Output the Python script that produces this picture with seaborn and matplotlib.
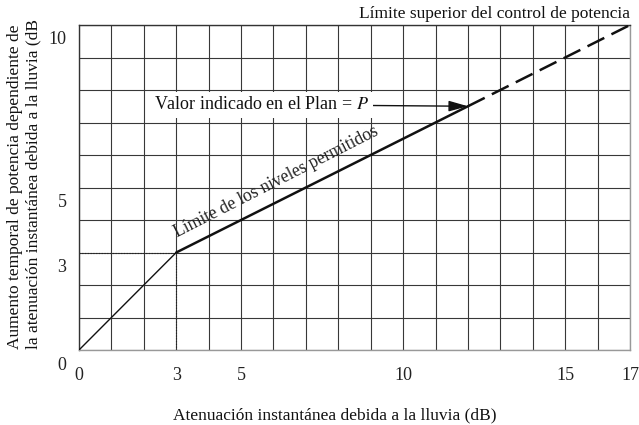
import numpy as np
import matplotlib
matplotlib.use("Agg")
import matplotlib.pyplot as plt
import matplotlib.transforms as mtransforms
from matplotlib.ticker import MultipleLocator
import seaborn as sns

# data (dB)
ramp_x = [0, 3]
ramp_y = [0, 3]
limit_x = [3, 12]
limit_y = [3, 7.5]
upper_x = [12, 17]
upper_y = [7.5, 10]
knee = (3, 3)
plan_point = (12, 7.5)
x_ticks = [0, 3, 5, 10, 15, 17]
y_ticks = [0, 3, 5, 10]

sns.set_theme(style="white")
plt.rcParams['font.family'] = ['Liberation Serif', 'DejaVu Serif']
plt.rcParams['mathtext.fontset'] = 'stix'

fs = 13

fig = plt.figure(figsize=(6.39, 4.25), dpi=100)
ax = fig.add_axes([79 / 639, 1 - 350 / 425, 551 / 639, 325 / 425])

# grid every 1 dB
ax.set_xlim(0, 17)
ax.set_ylim(0, 10)
ax.xaxis.set_minor_locator(MultipleLocator(1))
ax.yaxis.set_minor_locator(MultipleLocator(1))
ax.set_xticks(x_ticks)
ax.set_yticks(y_ticks)
ax.set_xticklabels([str(v) for v in x_ticks])
ax.set_yticklabels([str(v) for v in y_ticks])
ax.grid(which='both', color='#383838', linewidth=0.8, zorder=0)
ax.set_axisbelow(True)
ax.tick_params(which='both', length=0, labelsize=fs, colors='#222222')
ax.tick_params(axis='x', pad=12)
ax.tick_params(axis='y', pad=9)

for side in ['left', 'top']:
    ax.spines[side].set_color('#333333')
for side in ['bottom', 'right']:
    ax.spines[side].set_color('#999999')
for sp in ax.spines.values():
    sp.set_linewidth(1.0)

# y labels sit a little below their grid lines in the original
offset = mtransforms.ScaledTranslation(0, -13 / 100, fig.dpi_scale_trans)
for t in ax.yaxis.get_major_ticks():
    t.label1.set_transform(t.label1.get_transform() + offset)

# dotted guides to the knee
ax.plot([0, knee[0]], [knee[1], knee[1]], color='#222222', lw=0.8, linestyle=(0, (1, 1.5)), zorder=2)
ax.plot([knee[0], knee[0]], [0, knee[1]], color='#222222', lw=0.8, linestyle=(0, (1, 1.5)), zorder=2)

sns.lineplot(x=ramp_x, y=ramp_y, ax=ax, color='#111111', lw=1.0, zorder=3)
sns.lineplot(x=limit_x, y=limit_y, ax=ax, color='#111111', lw=1.8, zorder=3)
sns.lineplot(x=upper_x, y=upper_y, ax=ax, color='#111111', lw=1.8, linestyle=(0, (7.5, 3.2)), zorder=3)

ax.annotate("Valor indicado en el Plan = $P$", xy=plan_point, xytext=(5.62, 7.55),
            ha='center', va='center', fontsize=fs, color='#111111',
            bbox=dict(boxstyle='square,pad=0.25', fc='white', ec='none'),
            arrowprops=dict(arrowstyle='-|>,head_length=0.9,head_width=0.25', color='#111111',
                            lw=1.0, shrinkA=0, shrinkB=0),
            zorder=4)

ax.text(6.08, 5.18, "Límite de los niveles permitidos", rotation=27, ha='center', va='center',
        fontsize=fs - 0.3, color='#222222', rotation_mode='anchor', zorder=4)

fig.text(630 / 639, 1 - 14 / 425, "Límite superior del control de potencia", ha='right', va='center',
         fontsize=fs - 0.5, color='#111111')
fig.text(335 / 639, 1 - 415 / 425, "Atenuación instantánea debida a la lluvia (dB)", ha='center',
         va='center', fontsize=fs - 0.5, color='#111111')
fig.text(24 / 639, 1 - 349 / 425,
         "Aumento temporal de potencia dependiente de\nla atenuación instantánea debida a la lluvia (dB",
         rotation=90, ha='center', va='bottom', multialignment='left', fontsize=fs - 0.5,
         color='#111111', linespacing=1.2)

fig.savefig("out.png", dpi=100)
